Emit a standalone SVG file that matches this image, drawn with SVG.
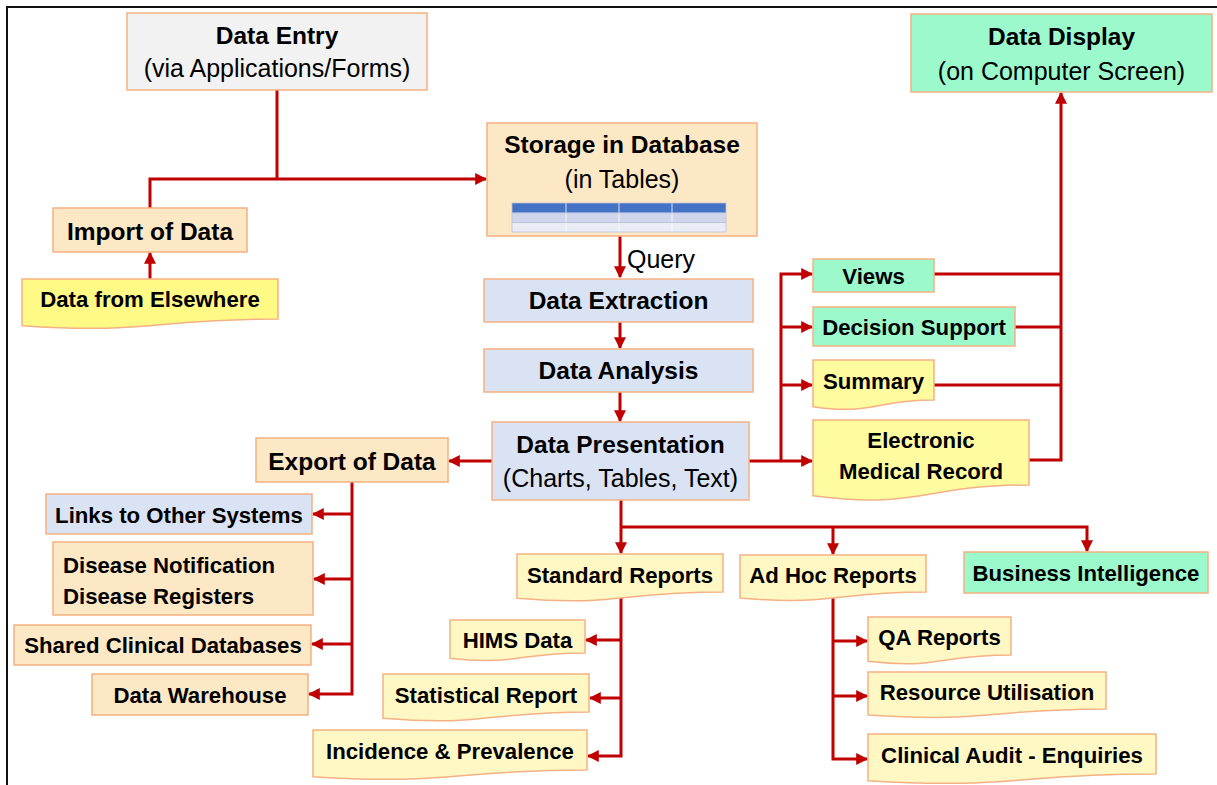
<svg xmlns="http://www.w3.org/2000/svg" width="1217" height="785" viewBox="0 0 1217 785">
<style>
.t{font-family:"Liberation Sans",Arial,sans-serif;fill:#000;text-anchor:middle}
.b{font-weight:bold;font-size:24.5px}
.s{font-weight:bold;font-size:22.2px}
.r{font-size:25px}
.box{stroke:#f4b183;stroke-width:1.5}
.gray{fill:#f2f2f2}
.peach{fill:#fde8c6}
.blue{fill:#dae3f3}
.green{fill:#9cf9cc}
.ylw{fill:#fffa85}
.ylw2{fill:#fffca0}
.pale{fill:#fff8c4}
.c{fill:none;stroke:#c00000;stroke-width:3}
</style>
<defs>
<marker id="ah" markerUnits="userSpaceOnUse" markerWidth="12" markerHeight="12" viewBox="0 0 10 10" refX="9" refY="5" orient="auto">
<path d="M0,0 L10,5 L0,10 Z" fill="#c00000"/>
</marker>
</defs>
<rect width="1217" height="785" fill="#fff"/>
<path d="M7,785 V7 H1217" fill="none" stroke="#111" stroke-width="2"/>

<g id="connectors">
<path class="c" d="M277,90 V179"/>
<path class="c" d="M150,208 V179 H486" marker-end="url(#ah)"/>
<path class="c" d="M150,279 V253" marker-end="url(#ah)"/>
<path class="c" d="M620,236 V277" marker-end="url(#ah)"/>
<path class="c" d="M620,322 V348" marker-end="url(#ah)"/>
<path class="c" d="M620,392 V421" marker-end="url(#ah)"/>
<path class="c" d="M492,461 H449" marker-end="url(#ah)"/>
<path class="c" d="M749,461 H781"/>
<path class="c" d="M781,461 H812" marker-end="url(#ah)"/>
<path class="c" d="M781,461 V274 H812" marker-end="url(#ah)"/>
<path class="c" d="M781,327 H812" marker-end="url(#ah)"/>
<path class="c" d="M781,385 H812" marker-end="url(#ah)"/>
<path class="c" d="M934,274 H1061"/>
<path class="c" d="M1015,327 H1061"/>
<path class="c" d="M934,385 H1061"/>
<path class="c" d="M1029,460 H1061 V93" marker-end="url(#ah)"/>
<path class="c" d="M621,500 V553" marker-end="url(#ah)"/>
<path class="c" d="M621,527 H1087 V551" marker-end="url(#ah)"/>
<path class="c" d="M833,527 V554" marker-end="url(#ah)"/>
<path class="c" d="M352,482 V694 H309" marker-end="url(#ah)"/>
<path class="c" d="M352,514 H313" marker-end="url(#ah)"/>
<path class="c" d="M352,579 H314" marker-end="url(#ah)"/>
<path class="c" d="M352,644 H312" marker-end="url(#ah)"/>
<path class="c" d="M621,598 V756 H588" marker-end="url(#ah)"/>
<path class="c" d="M621,640 H586" marker-end="url(#ah)"/>
<path class="c" d="M621,698 H590" marker-end="url(#ah)"/>
<path class="c" d="M833,598 V759 H867" marker-end="url(#ah)"/>
<path class="c" d="M833,641 H867" marker-end="url(#ah)"/>
<path class="c" d="M833,696 H867" marker-end="url(#ah)"/>
</g>

<g id="data-entry">
<rect class="box gray" x="127" y="13" width="300" height="77"/>
<text class="t b" x="277" y="44">Data Entry</text>
<text class="t r" x="277" y="77">(via Applications/Forms)</text>
</g>
<g id="data-display">
<rect class="box green" x="911" y="14" width="301" height="78"/>
<text class="t b" x="1061.5" y="45">Data Display</text>
<text class="t r" x="1061.5" y="80">(on Computer Screen)</text>
</g>
<g id="storage">
<rect class="box peach" x="487" y="123" width="270" height="113"/>
<text class="t b" x="622" y="153">Storage in Database</text>
<text class="t r" x="622" y="188">(in Tables)</text>
<rect x="512" y="203" width="214" height="10" fill="#4472c4"/>
<rect x="512" y="213" width="214" height="9.5" fill="#cfd5ea"/>
<rect x="512" y="222.5" width="214" height="9.5" fill="#e9ebf5"/>
<path d="M512,213 H726 M512,222.5 H726 M566,203 V232 M619,203 V232 M672,203 V232" stroke="#fff" stroke-width="0.8" fill="none"/>
<path d="M512,213 H726 M512,222.5 H726" stroke="#8ea0cc" stroke-width="0.6" fill="none"/>
<rect x="512" y="203" width="214" height="29" fill="none" stroke="#b7c2de" stroke-width="0.8"/>
</g>
<g id="query-label">
<text class="t r" x="627" y="268" style="text-anchor:start">Query</text>
</g>
<g id="data-extraction">
<rect class="box blue" x="484" y="279" width="269" height="43"/>
<text class="t b" x="618.5" y="309">Data Extraction</text>
</g>
<g id="data-analysis">
<rect class="box blue" x="484" y="349" width="269" height="43"/>
<text class="t b" x="618.5" y="379">Data Analysis</text>
</g>
<g id="data-presentation">
<rect class="box blue" x="492" y="422" width="257" height="78"/>
<text class="t b" x="620.5" y="453">Data Presentation</text>
<text class="t r" x="620.5" y="487">(Charts, Tables, Text)</text>
</g>
<g id="import">
<rect class="box peach" x="53" y="208" width="194" height="44"/>
<text class="t b" x="150" y="240">Import of Data</text>
</g>
<g id="data-elsewhere">
<path class="box ylw" d="M22,279 H278 V319 C150,319 150,334.4 22,325.7 Z"/>
<text class="t s" x="150" y="307">Data from Elsewhere</text>
</g>
<g id="export">
<rect class="box peach" x="256" y="438" width="192" height="44"/>
<text class="t b" x="352" y="470">Export of Data</text>
</g>
<g id="links">
<rect class="box blue" x="46" y="494" width="266" height="40"/>
<text class="t s" x="179" y="523">Links to Other Systems</text>
</g>
<g id="disease">
<rect class="box peach" x="53" y="542" width="260" height="73"/>
<text class="t s" x="63" y="573" style="text-anchor:start">Disease Notification</text>
<text class="t s" x="63" y="604" style="text-anchor:start">Disease Registers</text>
</g>
<g id="shared">
<rect class="box peach" x="14" y="625" width="297" height="40"/>
<text class="t s" x="163" y="653">Shared Clinical Databases</text>
</g>
<g id="warehouse">
<rect class="box peach" x="92" y="674" width="216" height="41"/>
<text class="t s" x="200" y="703">Data Warehouse</text>
</g>
<g id="views">
<rect class="box green" x="813" y="259" width="121" height="33"/>
<text class="t s" x="873.5" y="284">Views</text>
</g>
<g id="decision">
<rect class="box green" x="813" y="307" width="202" height="39"/>
<text class="t s" x="914" y="335">Decision Support</text>
</g>
<g id="summary">
<path class="box ylw2" d="M813,360 H934 V400 C873.5,400 873.5,415.4 813,406.7 Z"/>
<text class="t s" x="873.5" y="389">Summary</text>
</g>
<g id="emr">
<path class="box ylw2" d="M813,420 H1029 V485 C921,485 921,509.7 813,495.7 Z"/>
<text class="t s" x="921" y="448">Electronic</text>
<text class="t s" x="921" y="479">Medical Record</text>
</g>
<g id="standard">
<path class="box pale" d="M517,554 H723 V592 C620,592 620,606.5 517,598.3 Z"/>
<text class="t s" x="620" y="583">Standard Reports</text>
</g>
<g id="adhoc">
<path class="box pale" d="M740,555 H926 V592 C833,592 833,606 740,598 Z"/>
<text class="t s" x="833" y="583">Ad Hoc Reports</text>
</g>
<g id="bi">
<rect class="box green" x="964" y="552" width="244" height="41"/>
<text class="t s" x="1086" y="581">Business Intelligence</text>
</g>
<g id="hims">
<path class="box pale" d="M450,620 H585 V653 C517.5,653 517.5,665.4 450,658.3 Z"/>
<text class="t s" x="517.5" y="648">HIMS Data</text>
</g>
<g id="statistical">
<path class="box pale" d="M383,674 H589 V712 C486,712 486,726.5 383,718.3 Z"/>
<text class="t s" x="486" y="703">Statistical Report</text>
</g>
<g id="incidence">
<path class="box pale" d="M313,730 H587 V770 C450,770 450,785.4 313,776.7 Z"/>
<text class="t s" x="450" y="759">Incidence &amp; Prevalence</text>
</g>
<g id="qa">
<path class="box pale" d="M868,617 H1011 V655 C939.5,655 939.5,669.5 868,661.3 Z"/>
<text class="t s" x="939.5" y="645">QA Reports</text>
</g>
<g id="resource">
<path class="box pale" d="M868,672 H1106 V709 C987,709 987,723 868,715 Z"/>
<text class="t s" x="987" y="700">Resource Utilisation</text>
</g>
<g id="clinical">
<path class="box pale" d="M868,734 H1156 V774 C1012,774 1012,789.4 868,780.7 Z"/>
<text class="t s" x="1012" y="763">Clinical Audit - Enquiries</text>
</g>
</svg>
